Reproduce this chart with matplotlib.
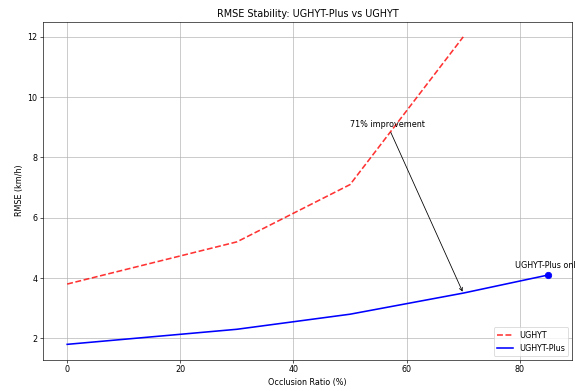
import matplotlib
matplotlib.use("Agg")
import matplotlib.pyplot as plt

# occlusion ratios (%)
occ_ughyt = [0, 30, 50, 70]
rmse_ughyt = [3.8, 5.2, 7.1, 12.0]

occ_plus = [0, 30, 50, 70, 85]
rmse_plus = [1.8, 2.3, 2.8, 3.5, 4.1]

fig, ax = plt.subplots(figsize=(10, 6.8), dpi=57.5)

ax.plot(occ_ughyt, rmse_ughyt, 'r--', linewidth=2, alpha=0.8, label='UGHYT')
ax.plot(occ_plus, rmse_plus, 'b-', linewidth=2, label='UGHYT-Plus')
ax.plot(occ_plus[-1], rmse_plus[-1], 'bo', markersize=8)

ax.text(occ_plus[-1], rmse_plus[-1] + 0.22, "UGHYT-Plus only", ha='center', fontsize=10)

ax.annotate("71% improvement", xy=(occ_plus[3], rmse_plus[3]), xytext=(56.6, 9.0),
            ha='center', fontsize=10,
            arrowprops=dict(arrowstyle='->', color='black', lw=1))

ax.set_title("RMSE Stability: UGHYT-Plus vs UGHYT", fontsize=12)
ax.set_xlabel("Occlusion Ratio (%)", fontsize=10)
ax.set_ylabel("RMSE (km/h)", fontsize=10)
ax.grid(True)
ax.legend(loc='lower right', fontsize=10)

fig.subplots_adjust(left=0.075, right=0.995, top=0.945, bottom=0.08)
plt.savefig("out.png")
